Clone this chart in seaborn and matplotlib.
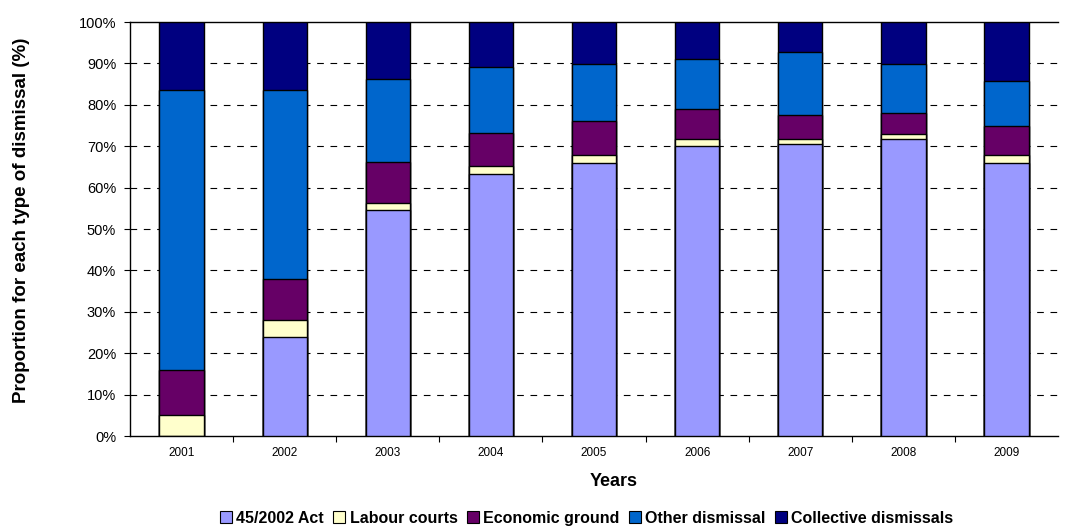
import numpy as np
import pandas as pd
import seaborn as sns
import matplotlib.pyplot as plt
from matplotlib.lines import Line2D
from matplotlib.ticker import FixedLocator

sns.set_style("white")
plt.rcParams['font.family'] = ['Liberation Sans', 'DejaVu Sans']
plt.rcParams['text.color'] = 'black'
plt.rcParams['axes.labelcolor'] = 'black'
plt.rcParams['xtick.color'] = 'black'
plt.rcParams['ytick.color'] = 'black'

# Data (percent of dismissals per year)
years = ["2001", "2002", "2003", "2004", "2005", "2006", "2007", "2008", "2009"]
act_45_2002 = [0.0, 24.0, 54.5, 63.4, 66.0, 70.0, 70.5, 71.8, 66.0]
labour_courts = [5.0, 4.0, 1.8, 1.7, 1.8, 1.8, 1.2, 1.2, 1.8]
economic_ground = [11.0, 10.0, 10.0, 8.1, 8.3, 7.3, 5.9, 4.9, 7.2]
other_dismissal = [67.5, 45.5, 20.0, 15.9, 13.7, 11.9, 15.1, 11.9, 10.8]
collective = [16.5, 16.5, 13.7, 10.9, 10.2, 9.0, 7.3, 10.2, 14.2]

series = ["45/2002 Act", "Labour courts", "Economic ground", "Other dismissal", "Collective dismissals"]
colors = ["#9999FF", "#FFFFCC", "#660066", "#0066CC", "#000080"]

df = pd.DataFrame({
    "Year": years,
    series[0]: act_45_2002,
    series[1]: labour_courts,
    series[2]: economic_ground,
    series[3]: other_dismissal,
    series[4]: collective,
})
# scale to 100% and stack
vals = df[series]
vals = vals.div(vals.sum(axis=1), axis=0) * 100
cum = vals.cumsum(axis=1)

fig = plt.figure(figsize=(10.72, 5.29), dpi=100)
ax = fig.add_axes([0.1213, 0.1758, 0.8657, 0.7826])

# draw cumulative heights from top down so each layer covers the one above
for name, col in reversed(list(zip(series, colors))):
    plot_df = pd.DataFrame({"Year": years, "val": cum[name].values})
    sns.barplot(data=plot_df, x="Year", y="val", color=col, width=0.43,
                edgecolor="black", linewidth=1.0, saturation=1, ax=ax, zorder=3)

ax.set_ylim(0, 100)
ax.set_xlim(-0.5, len(years) - 0.5)
ax.set_yticks(np.arange(0, 101, 10))
ax.set_yticklabels([f"{v}%" for v in range(0, 101, 10)], fontsize=10.5)
ax.tick_params(axis="y", length=4, width=0.8, color="black", direction="out", left=True, pad=6)
ax.tick_params(axis="x", labelsize=8.5, length=0, pad=8)
ax.xaxis.set_minor_locator(FixedLocator(np.arange(0.5, len(years) - 0.5, 1)))
ax.tick_params(axis="x", which="minor", length=4, width=0.8, color="black", direction="out", bottom=True)

for v in range(10, 100, 10):
    ax.axhline(v, color="black", linestyle=(0, (6, 6)), linewidth=0.8, zorder=1)

for s in ["left", "bottom", "top"]:
    ax.spines[s].set_color("black")
    ax.spines[s].set_linewidth(1.0)
ax.spines["right"].set_visible(False)

ax.set_xlabel("Years", fontsize=13, fontweight="bold")
ax.xaxis.set_label_coords(0.5216, -0.09)
ax.set_ylabel("Proportion for each type of dismissal (%)", fontsize=13.5, fontweight="bold")
ax.yaxis.set_label_coords(-0.108, 0.522)

handles = [Line2D([0], [0], marker="s", linestyle="none", markersize=8,
                  markerfacecolor=c, markeredgecolor="black", markeredgewidth=0.8)
           for c in colors]
fig.legend(handles, series, loc="center", bbox_to_anchor=(0.547, 0.02), ncol=5,
           frameon=False, handlelength=0.8, handletextpad=0.25, columnspacing=0.55,
           prop={"weight": "bold", "size": 11.5})

fig.savefig("out.png", dpi=100)
